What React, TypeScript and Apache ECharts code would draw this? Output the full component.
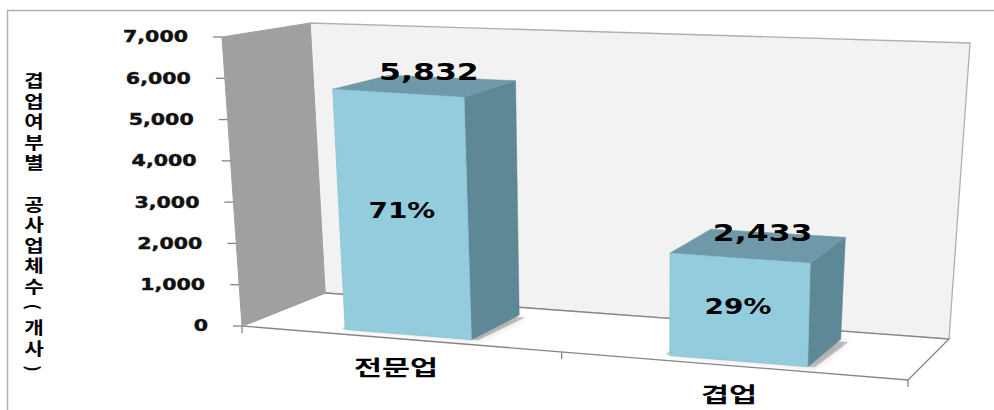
import React, { useEffect, useRef } from "react";
import * as echarts from "echarts";

// ---- data ----
const categories = ["전문업", "겹업"];
const counts = [5832, 2433];
const shares = [71, 29];
const yTicks = [0, 1000, 2000, 3000, 4000, 5000, 6000, 7000];
const yTitleChars = ["겹", "업", "여", "부", "별", "", "공", "사", "업", "체", "수", "(", "개", "사", ")"];

// ---- 3D box projection (layout constants) ----
type P = [number, number];
const F00: P = [242, 326];
const F10: P = [908, 380];
const B00: P = [325, 293];
const B10: P = [949, 339];
const F01: P = [222, 37];
const F11: P = [919, 80];
const B01: P = [310, 23];
const B11: P = [970, 43];

const lerp = (a: P, b: P, t: number): P => [a[0] + (b[0] - a[0]) * t, a[1] + (b[1] - a[1]) * t];
const warp = (u: number) => u - 0.02 * Math.sin(Math.PI * u);
function project(u: number, v: number, d: number): P {
  const w = warp(u);
  const bottom = lerp(lerp(F00, F10, w), lerp(B00, B10, w), d);
  const top = lerp(lerp(F01, F11, w), lerp(B01, B11, w), d);
  return lerp(bottom, top, v);
}

const NUM_FONT = "DejaVu Sans";
const KR_FONT = "Noto Sans CJK KR";
const D0 = 0.12;
const D1 = 0.81;

function toUV(params: any, api: any, cat: number, val: number) {
  const cs = params.coordSys;
  const pt = api.coord([cat, val]);
  return {
    u: (pt[0] - cs.x) / cs.width,
    v: (cs.y + cs.height - pt[1]) / cs.height,
  };
}

export default function App() {
  const ref = useRef<HTMLDivElement>(null);

  useEffect(() => {
    if (!ref.current) return;
    const chart = echarts.init(ref.current, undefined, { renderer: "svg" });

    const wallsRender = (params: any, api: any) => {
      const poly = (pts: P[], fill: string, stroke: string, lw = 1) => ({
        type: "polygon",
        shape: { points: pts },
        style: { fill, stroke, lineWidth: lw },
      });
      const children: any[] = [];
      children.push(poly([project(0, 0, 1), project(1, 0, 1), project(1, 1, 1), project(0, 1, 1)], "#f2f2f2", "#b0b0b0", 1.3));
      children.push(poly([project(0, 0, 0), project(1, 0, 0), project(1, 0, 1), project(0, 0, 1)], "#ffffff", "#868686", 1.3));
      children.push(poly([project(0, 0, 0), project(0, 0, 1), project(0, 1, 1), project(0, 1, 0)], "#a0a0a0", "#a0a0a0", 1));
      const n = categories.length;
      for (let i = 0; i <= n; i++) {
        const p = project(i / n, 0, 0);
        children.push({
          type: "line",
          shape: { x1: p[0], y1: p[1], x2: p[0], y2: p[1] + 7 },
          style: { stroke: "#868686", lineWidth: 1.3 },
        });
      }
      return { type: "group", children };
    };

    const ticksRender = (params: any, api: any) => {
      const val = api.value(1);
      const { v } = toUV(params, api, 0, val);
      const p = project(0, v, 0);
      return {
        type: "group",
        children: [
          {
            type: "line",
            shape: { x1: p[0] - 9, y1: p[1], x2: p[0], y2: p[1] },
            style: { stroke: "#868686", lineWidth: 1.3 },
          },
          {
            type: "text",
            x: p[0] - 34,
            y: p[1],
            scaleX: 1.37,
            style: {
              text: val.toLocaleString("en-US"),
              fontFamily: NUM_FONT,
              fontWeight: "bold",
              fontSize: 15,
              fill: "#111",
              stroke: "#111",
              lineWidth: 0.4,
              align: "right",
              verticalAlign: "middle",
            },
          },
        ],
      };
    };

    const barsRender = (params: any, api: any) => {
      const idx = params.dataIndex;
      const cat = api.value(0);
      const val = api.value(1);
      const { u, v } = toUV(params, api, cat, val);
      const band = api.size([1, 0])[0] / params.coordSys.width;
      const half = band * 0.2;
      const u0 = u - half;
      const u1 = u + half;
      const front = [project(u0, 0, D0), project(u1, 0, D0), project(u1, v, D0), project(u0, v, D0)];
      const side = [project(u1, 0, D0), project(u1, 0, D1), project(u1, v, D1), project(u1, v, D0)];
      const top = [project(u0, v, D0), project(u1, v, D0), project(u1, v, D1), project(u0, v, D1)];
      const shadow = [project(u0 - 0.008, 0, D0 + 0.02), project(u1 + 0.01, 0, D0), project(u1 + 0.015, 0, D1 - 0.05), project(u0, 0, D1 - 0.1)];
      const topC = project(u, v, (D0 + D1) / 2);
      const midC = project(u, v / 2, D0);
      const baseC = project(u, 0, 0);
      return {
        type: "group",
        children: [
          {
            type: "polygon",
            shape: { points: shadow },
            style: { fill: "rgba(90,90,90,0.35)", shadowBlur: 6, shadowColor: "rgba(0,0,0,0.45)" },
          },
          { type: "polygon", shape: { points: side }, style: { fill: "#5f8897", stroke: "#5a8291", lineWidth: 0.5 } },
          { type: "polygon", shape: { points: top }, style: { fill: "#6f98a8", stroke: "#6a93a3", lineWidth: 0.5 } },
          { type: "polygon", shape: { points: front }, style: { fill: "#93cddd", stroke: "#86bccb", lineWidth: 0.6 } },
          {
            type: "text",
            x: topC[0] + 4,
            y: topC[1] - 13,
            scaleX: 1.37,
            style: {
              text: val.toLocaleString("en-US"),
              fontFamily: NUM_FONT,
              fontWeight: "bold",
              fontSize: 23,
              fill: "#000",
              align: "center",
              verticalAlign: "middle",
            },
          },
          {
            type: "text",
            x: midC[0] - 1,
            y: midC[1] - 3,
            scaleX: 1.27,
            style: {
              text: shares[idx] + "%",
              fontFamily: NUM_FONT,
              fontWeight: "bold",
              fontSize: 22,
              fill: "#000",
              align: "center",
              verticalAlign: "middle",
            },
          },
          {
            type: "text",
            x: baseC[0] - 3,
            y: baseC[1] + 27,
            scaleX: 1.45,
            style: {
              text: categories[idx],
              fontFamily: KR_FONT,
              fontWeight: "bold",
              fontSize: 21,
              fill: "#000",
              align: "center",
              verticalAlign: "middle",
            },
          },
        ],
      };
    };

    const titleGraphics: any[] = yTitleChars.map((ch, i) => {
      const isParen = ch === "(" || ch === ")";
      return {
        type: "text",
        x: 34,
        y: 80 + i * 20.6,
        originX: 0,
        originY: 0,
        scaleX: isParen ? 1 : 1.25,
        rotation: isParen ? -Math.PI / 2 : 0,
        style: {
          text: ch,
          x: 0,
          y: 0,
          fontFamily: KR_FONT,
          fontWeight: "bold",
          fontSize: 17,
          fill: "#000",
          align: "center",
          verticalAlign: "middle",
        },
      };
    });

    chart.setOption({
      animation: false,
      backgroundColor: "#ffffff",
      grid: { left: 0, top: 0, width: 100, height: 100 },
      xAxis: { type: "category", data: categories, show: false },
      yAxis: { type: "value", min: 0, max: 7000, interval: 1000, show: false },
      graphic: [
        {
          type: "polyline",
          shape: { points: [[7.5, 410], [7.5, 10.5], [994, 10.5]] },
          style: { stroke: "#b0b0b0", lineWidth: 1.5, fill: null },
          z: 0,
        },
        ...titleGraphics,
      ],
      series: [
        {
          type: "custom",
          name: "walls",
          renderItem: wallsRender,
          data: [[0, 0]],
          encode: { x: 0, y: 1 },
          z: 1,
          silent: true,
        },
        {
          type: "custom",
          name: "ticks",
          renderItem: ticksRender,
          data: yTicks.map((t) => [0, t]),
          encode: { x: 0, y: 1 },
          z: 2,
          silent: true,
        },
        {
          type: "custom",
          name: "bars",
          renderItem: barsRender,
          data: counts.map((c, i) => [i, c]),
          encode: { x: 0, y: 1 },
          z: 3,
        },
      ],
    });

    return () => chart.dispose();
  }, []);

  return (
    <div
      ref={ref}
      style={{ position: "fixed", left: 0, top: 0, width: 994, height: 410 }}
    />
  );
}
